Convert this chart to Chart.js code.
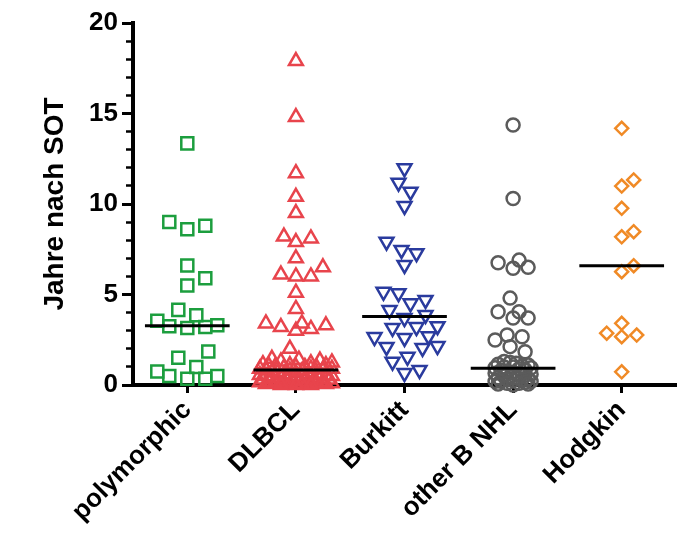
<!DOCTYPE html>
<html>
<head>
<meta charset="utf-8">
<title>Jahre nach SOT</title>
<script src="https://cdn.jsdelivr.net/npm/chart.js@4/dist/chart.umd.min.js"></script>
<style>
html,body{margin:0;padding:0;background:#fff;}
</style>
</head>
<body>
<canvas id="sotChart" width="697" height="544"></canvas>
<script>
/* ==========================
   DATA
========================== */

const categories = ["polymorphic", "DLBCL", "Burkitt", "other B NHL", "Hodgkin"];

const polymorphic = [
    13.35, 9.0, 8.8, 8.6, 6.6, 5.9, 5.5, 4.15, 3.85, 3.55, 3.3,
    3.25, 3.2, 3.15, 1.85, 1.5, 1.0, 0.75, 0.5, 0.5, 0.35, 0.35
];

const dlbcl = [
    17.9, 14.8, 11.7, 10.4, 9.5, 8.2, 8.1, 7.9, 7.0, 6.5, 6.1,
    6.0, 6.0, 5.1, 4.2, 3.4, 3.3, 3.2, 3.1, 3.0, 3.4, 2.0,
    1.45, 1.4, 1.35, 1.3, 1.25, 1.2, 1.15, 1.1, 1.1, 1.05, 1.0,
    1.0, 1.0, 0.95, 0.95, 0.9, 0.9, 0.9, 0.85, 0.85,
    0.8, 0.75, 0.7, 0.7, 0.65, 0.6, 0.6, 0.6, 0.55, 0.5, 0.5,
    0.5, 0.45, 0.45, 0.4, 0.4, 0.4, 0.35, 0.35, 0.3, 0.3, 0.3,
    0.3, 0.25, 0.25, 0.2, 0.2, 0.2, 0.2, 0.15, 0.15, 0.15, 0.1,
    0.1, 0.1, 0.1, 0.05, 0.05, 0.05, 0.0, 0.0, 0.0
];

const burkitt = [
    11.97, 11.18, 10.68, 9.89, 7.92, 7.46, 7.28, 6.63, 5.15, 5.07,
    4.7, 4.51, 4.14, 3.87, 3.7, 3.25, 3.2, 3.15, 2.7, 2.65, 2.6,
    2.15, 2.1, 2.05, 1.56, 1.29, 0.83, 0.66
];

const otherBNHL = [
    14.36, 10.3, 6.9, 6.75, 6.5, 6.45, 4.8, 4.05, 4.05, 3.7, 3.7,
    2.76, 2.67, 2.49, 2.12, 1.84,
    1.3, 1.25, 1.2, 1.15, 1.1, 1.05, 1.0, 1.0, 0.95, 0.95,
    0.9, 0.85, 0.8, 0.75, 0.7, 0.65, 0.6, 0.6, 0.55, 0.5, 0.45,
    0.4, 0.4, 0.35, 0.3, 0.3, 0.25, 0.2, 0.2, 0.2, 0.15, 0.1,
    0.1, 0.05, 0.05, 0.0
];

const hodgkin = [
    14.18, 11.33, 10.99, 9.76, 8.47, 8.19, 6.59, 6.26, 3.41,
    2.86, 2.76, 2.67, 0.73
];

const medians = [3.27, 0.83, 3.78, 0.93, 6.59];

const yTicks = [0, 5, 10, 15, 20];

/* ==========================
   LAYOUT / STYLE
========================== */

const series = [polymorphic, dlbcl, burkitt, otherBNHL, hodgkin];

const markers = [
    { color: "#1c9e3e", style: "rect", radius: 8.5, rotation: 0 },
    { color: "#e8444c", style: "triangle", radius: 8, rotation: 0 },
    { color: "#2a3b9e", style: "triangle", radius: 8, rotation: 180 },
    { color: "#5b5b5b", style: "circle", radius: 6.5, rotation: 0 },
    { color: "#f08a26", style: "rectRot", radius: 6.5, rotation: 0 }
];

// spread cap and spacing (px) of the dot columns
const spreadCap = [30, 36, 34, 20, 32];
const dotGap = [18, 13, 15, 15, 13];

const PX_PER_CAT = 108.6;
const PX_PER_UNIT = 18.1;
const STEP = 3;

// simple beeswarm: place each dot as close to the column centre
// as possible without overlap, else pick the least crowded spot
function swarm(values, cap, gap){

    const order = values.map((v, i) => i)
        .sort((a, b) => values[a] - values[b]);

    const placed = [];
    const offs = new Array(values.length);
    const slots = Math.floor(cap / STEP);

    order.forEach(i => {

        const y = values[i] * PX_PER_UNIT;
        let best = 0, bestScore = -1;

        for(let k = 0; k <= 2 * slots; k++){

            const off = (k % 2 ? 1 : -1) * Math.ceil(k / 2) * STEP;
            let minD = Infinity;

            placed.forEach(p => {
                minD = Math.min(minD, Math.hypot(p.x - off, p.y - y));
            });

            if(minD >= gap){ best = off; break; }
            if(minD > bestScore){ bestScore = minD; best = off; }
        }

        placed.push({ x: best, y: y });
        offs[i] = best / PX_PER_CAT;
    });

    return offs;
}

const pointSets = series.map((vals, c) => {

    const offs = swarm(vals, spreadCap[c], dotGap[c]);
    const m = markers[c];

    return {
        label: categories[c],
        data: vals.map((v, i) => ({ x: c + offs[i], y: v })),
        pointStyle: m.style,
        pointRotation: m.rotation,
        pointRadius: m.radius,
        pointBorderWidth: 2.5,
        pointBorderColor: m.color,
        pointBackgroundColor: "rgba(0,0,0,0)",
        showLine: false,
        clip: false,
        yAxisID: "y",
        order: 1
    };
});

const medianSets = medians.map((m, c) => ({
    label: "median " + categories[c],
    data: [{ x: c - 0.39, y: m }, { x: c + 0.39, y: m }],
    showLine: true,
    borderColor: "#000",
    borderWidth: 3,
    pointRadius: 0,
    clip: false,
    yAxisID: "y",
    order: -1
}));

const boldFont = size => ({
    family: "'Liberation Sans', Arial, sans-serif",
    size: size,
    weight: "bold"
});

/* ==========================
   CHART
========================== */

new Chart(document.getElementById("sotChart"), {

    type: "scatter",

    data: {
        datasets: [...pointSets, ...medianSets]
    },

    options: {

        responsive: false,
        animation: false,

        layout: {
            padding: { top: 23, right: 21, bottom: 0, left: 0 }
        },

        plugins: {
            legend: { display: false },
            tooltip: { enabled: false }
        },

        scales: {

            y: {
                position: "left",
                weight: 1,
                min: 0,
                max: 20,
                afterBuildTicks: s => {
                    s.ticks = yTicks.map(v => ({ value: v }));
                },
                ticks: {
                    font: boldFont(26),
                    color: "#000",
                    padding: 4
                },
                grid: {
                    drawOnChartArea: false,
                    tickLength: 11,
                    tickWidth: 3,
                    tickColor: "#000"
                },
                border: { display: true, width: 4, color: "#000" },
                title: {
                    display: true,
                    text: "Jahre nach SOT",
                    font: boldFont(28),
                    color: "#000",
                    padding: { top: 38, bottom: 0 }
                },
                afterFit: s => { s.width = 133; }
            },

            yMinor: {
                position: "left",
                weight: 0,
                min: 0,
                max: 20,
                ticks: { display: false, stepSize: 1 },
                grid: {
                    drawOnChartArea: false,
                    tickLength: 7,
                    tickWidth: 2.5,
                    tickColor: "#000"
                },
                border: { display: false },
                afterFit: s => { s.width = 0; }
            },

            x: {
                type: "linear",
                min: -0.5,
                max: 4.5,
                afterBuildTicks: s => {
                    s.ticks = categories.map((c, i) => ({ value: i }));
                },
                ticks: {
                    autoSkip: false,
                    minRotation: 45,
                    maxRotation: 45,
                    font: boldFont(26),
                    color: "#000",
                    padding: 2,
                    callback: v => categories[v]
                },
                grid: {
                    drawOnChartArea: false,
                    tickLength: 8,
                    tickWidth: 3,
                    tickColor: "#000"
                },
                border: { display: true, width: 4, color: "#000" },
                afterFit: s => { s.height = 159; }
            }
        }
    }
});
</script>
</body>
</html>
